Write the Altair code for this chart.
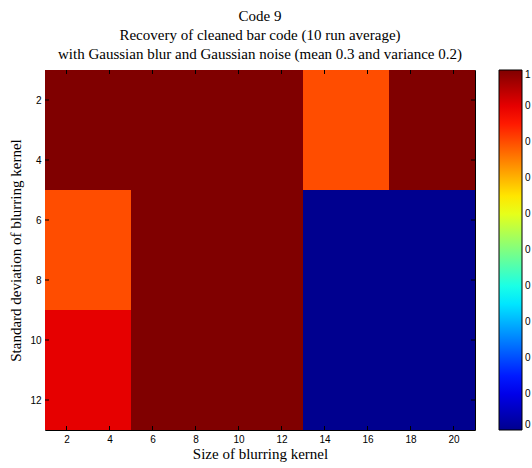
import altair as alt
import pandas as pd

# Data
kernel_size = [3, 7, 11, 15, 19]          # cell centres (size of blurring kernel)
blur_std = [3, 7, 11]                      # cell centres (std of blurring kernel)
recovery = [
    [1.0, 1.0, 1.0, 0.8, 1.0],
    [0.8, 1.0, 1.0, 0.0, 0.0],
    [0.9, 1.0, 1.0, 0.0, 0.0],
]
cell_half = 2
x_ticks = [2, 4, 6, 8, 10, 12, 14, 16, 18, 20]
y_ticks = [2, 4, 6, 8, 10, 12]
cbar_ticks = [0, 0.1, 0.2, 0.3, 0.4, 0.5, 0.6, 0.7, 0.8, 0.9, 1.0]
jet = ["#00008F", "#0000FF", "#0080FF", "#00FFFF", "#80FF80",
       "#FFFF00", "#FF8000", "#FF0000", "#800000"]

rows = []
for i, s in enumerate(blur_std):
    for j, k in enumerate(kernel_size):
        rows.append({"k": k, "s": s, "v": recovery[i][j]})
df = pd.DataFrame(rows)

W, H = 430, 360
xs = alt.Scale(domain=[1, 21], nice=False, zero=False)
ys = alt.Scale(domain=[1, 13], nice=False, zero=False, reverse=True)
cs = alt.Scale(domain=[0, 1], range=jet, interpolate="rgb")

heat = alt.Chart(df).transform_calculate(
    x0=f"datum.k - {cell_half}", x1=f"datum.k + {cell_half}",
    y0=f"datum.s - {cell_half}", y1=f"datum.s + {cell_half}",
).mark_rect(opacity=1, fillOpacity=1).encode(
    x=alt.X("x0:Q", scale=xs, title="Size of blurring kernel",
            axis=alt.Axis(values=x_ticks, ticks=False, domain=False, grid=False,
                          labelPadding=4, titlePadding=2,
                          titleFont="Liberation Serif", titleFontSize=15,
                          titleFontWeight="normal")),
    x2="x1:Q",
    y=alt.Y("y0:Q", scale=ys, title="Standard deviation of blurring kernel",
            axis=alt.Axis(values=y_ticks, ticks=False, domain=False, grid=False,
                          labelPadding=4, titlePadding=6,
                          titleFont="Liberation Serif", titleFontSize=15,
                          titleFontWeight="normal")),
    y2="y1:Q",
    color=alt.Color("v:Q", scale=cs,
                    legend=alt.Legend(type="gradient", orient="none",
                                      legendX=W + 24, legendY=0,
                                      direction="vertical", title=None,
                                      gradientLength=H, gradientThickness=23,
                                      gradientStrokeColor="black", gradientStrokeWidth=1,
                                      values=cbar_ticks, labelOverlap=False,
                                      labelExpr="datum.value == 1 ? '1' : '0'",
                                      labelFont="Liberation Sans", labelFontSize=10,
                                      labelColor="black", labelOffset=3)),
)

xt = pd.DataFrame({"t": x_ticks})
yt = pd.DataFrame({"t": y_ticks})
tick_style = dict(color="black", strokeWidth=1)
bt = alt.Chart(xt).mark_rule(**tick_style).encode(x=alt.X("t:Q", scale=xs), y=alt.value(H), y2=alt.value(H - 4))
tt = alt.Chart(xt).mark_rule(**tick_style).encode(x=alt.X("t:Q", scale=xs), y=alt.value(0), y2=alt.value(4))
lt = alt.Chart(yt).mark_rule(**tick_style).encode(y=alt.Y("t:Q", scale=ys), x=alt.value(0), x2=alt.value(4))
rt = alt.Chart(yt).mark_rule(**tick_style).encode(y=alt.Y("t:Q", scale=ys), x=alt.value(W), x2=alt.value(W - 4))

chart = alt.layer(heat, bt, tt, lt, rt).properties(
    width=W, height=H,
    autosize=alt.AutoSizeParams(type="none"),
    padding={"left": 45, "top": 70, "right": 57, "bottom": 38},
    background="white",
    title=alt.Title(
        ["Code 9", "Recovery of cleaned bar code (10 run average)",
         "with Gaussian blur and Gaussian noise (mean 0.3 and variance 0.2)"],
        font="Liberation Serif", fontSize=15, fontWeight="normal", color="black",
        anchor="middle", offset=8, lineHeight=19),
).configure_view(stroke="black", strokeWidth=1).configure_axis(
    labelFont="Liberation Sans", labelFontSize=10, labelColor="black",
    titleFont="Liberation Serif", titleFontSize=15, titleFontWeight="normal",
    titleColor="black",
)

chart.save("out.html", embed_options={"renderer": "svg", "actions": False})
